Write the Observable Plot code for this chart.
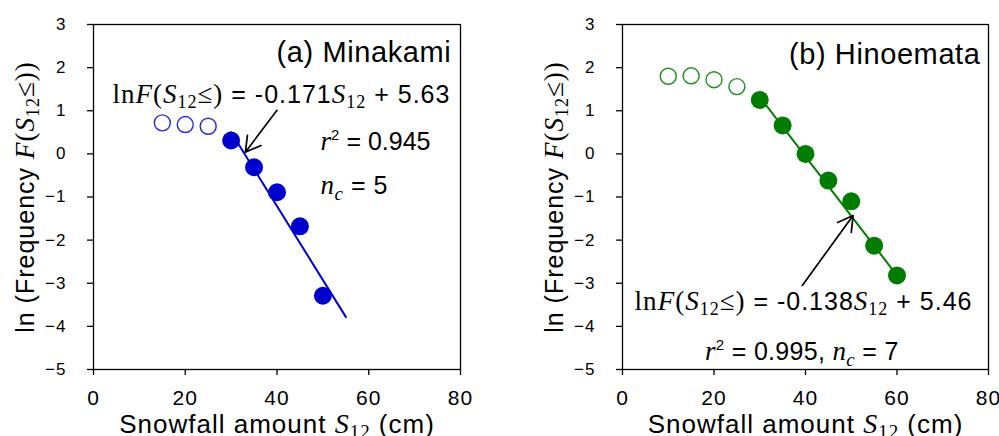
<!DOCTYPE html>
<html><head><meta charset="utf-8">
<script src="https://cdn.jsdelivr.net/npm/d3@7"></script>
<script src="https://cdn.jsdelivr.net/npm/@observablehq/plot@0.6"></script>
<style>
body{margin:0;background:#fff;}
#wrap{display:flex;width:999px;height:436px;overflow:hidden;}
#wrap svg{display:block;flex:none;}
</style></head><body><div id="wrap"></div>
<script>
// ---------- data ----------
const xTicks = [0, 20, 40, 60, 80];
const yTicks = [-5, -4, -3, -2, -1, 0, 1, 2, 3];

const stations = ["(a) Minakami", "(b) Hinoemata"];
const slopes = ["-0.171", "-0.138"];
const intercepts = ["5.63", "5.46"];
const r2Values = ["0.945", "0.995"];
const ncValues = ["5", "7"];

const minakamiOpenX = [15, 20, 25];
const minakamiOpenY = [0.72, 0.68, 0.64];
const minakamiFillX = [30, 35, 40, 45, 50];
const minakamiFillY = [0.31, -0.31, -0.89, -1.68, -3.29];
const minakamiFitX = [30, 55];
const minakamiFitY = [0.50, -3.78];

const hinoemataOpenX = [10, 15, 20, 25];
const hinoemataOpenY = [1.80, 1.81, 1.72, 1.56];
const hinoemataFillX = [30, 35, 40, 45, 50, 55, 60];
const hinoemataFillY = [1.25, 0.66, 0.00, -0.62, -1.10, -2.13, -2.82];
const hinoemataFitX = [30, 60];
const hinoemataFitY = [1.32, -2.82];

// ---------- helpers ----------
const SANS = "'Liberation Sans', Arial, sans-serif";
const SERIF = "'Liberation Serif', 'Times New Roman', serif";
const zip = (xs, ys) => xs.map((x, i) => ({x, y: ys[i]}));

const rich = new Map();
const P = (t, f, s, it = false, sh = 0) => ({t, f, s, it, sh});

const yLabel = "ln (Frequency F(S12≤))";
rich.set(yLabel, {ls: 1, parts: [P("ln (Frequency ", SANS, 25), P("F", SERIF, 27, true), P("(", SERIF, 27), P("S", SERIF, 27, true), P("12", SERIF, 18, false, 5), P("≤))", SERIF, 27)]});
const xLabel = "Snowfall amount S12 (cm)";
rich.set(xLabel, {ls: 1, parts: [P("Snowfall amount ", SANS, 26), P("S", SERIF, 28, true), P("12", SERIF, 19, false, 5), P(" (cm)", SANS, 26)]});

function eqKey(i) { return `lnF(S12≤) = ${slopes[i]}S12 + ${intercepts[i]}`; }
function eqParts(i) {
  return [P("ln", SERIF, 27), P("F", SERIF, 27, true), P("(", SERIF, 27), P("S", SERIF, 27, true), P("12", SERIF, 18, false, 5), P("≤)", SERIF, 27),
          P(` = ${slopes[i]}`, SANS, 25), P("S", SERIF, 27, true), P("12", SERIF, 18, false, 5), P(` + ${intercepts[i]}`, SANS, 25)];
}
const r2Parts = i => [P("r", SERIF, 27, true), P("2", SANS, 15, false, -10), P(` = ${r2Values[i]}`, SANS, 25)];
const ncParts = i => [P("n", SERIF, 27, true), P("c", SERIF, 19, true, 6), P(` = ${ncValues[i]}`, SANS, 25)];

function applyRich(svg) {
  svg.querySelectorAll("text").forEach(el => {
    const spec = rich.get(el.textContent);
    if (!spec) return;
    el.textContent = "";
    el.style.letterSpacing = spec.ls + "px";
    let cur = 0;
    for (const p of spec.parts) {
      const ts = document.createElementNS("http://www.w3.org/2000/svg", "tspan");
      ts.textContent = p.t;
      ts.setAttribute("font-family", p.f);
      ts.setAttribute("font-size", p.s);
      ts.setAttribute("font-style", p.it ? "italic" : "normal");
      const dy = p.sh - cur;
      if (dy) ts.setAttribute("dy", dy);
      cur = p.sh;
      el.appendChild(ts);
    }
  });
  svg.querySelectorAll("g").forEach(g => {
    const lab = g.getAttribute("aria-label") || "";
    if (!lab.includes("tick label")) return;
    const isX = lab.startsWith("x");
    g.querySelectorAll("text").forEach(t => {
      t.style.fontSize = (isX ? 21 : 17) + "px";
      t.style.letterSpacing = "1px";
    });
  });
}

function panel(cfg) {
  const i = cfg.index;
  const eq = eqKey(i);
  rich.set(eq, {ls: 1, parts: eqParts(i)});
  rich.set(stations[i], {ls: 0.6, parts: [P(stations[i], SANS, 29)]});
  const texts = [];
  texts.push({x: cfg.title[0], y: cfg.title[1], label: stations[i], anchor: "end"});
  texts.push({x: cfg.eq[0], y: cfg.eq[1], label: eq, anchor: "end"});
  if (cfg.combined) {
    const key = `r2 = ${r2Values[i]}, nc = ${ncValues[i]}`;
    const parts = r2Parts(i);
    parts[2] = P(` = ${r2Values[i]}, `, SANS, 25);
    rich.set(key, {ls: 0.3, parts: parts.concat(ncParts(i))});
    texts.push({x: cfg.stats[0], y: cfg.stats[1], label: key, anchor: "middle"});
  } else {
    const k1 = `r2 = ${r2Values[i]}`, k2 = `nc = ${ncValues[i]}`;
    rich.set(k1, {ls: 0, parts: r2Parts(i)});
    rich.set(k2, {ls: 0.5, parts: ncParts(i)});
    texts.push({x: cfg.r2[0], y: cfg.r2[1], label: k1, anchor: "start"});
    texts.push({x: cfg.nc[0], y: cfg.nc[1], label: k2, anchor: "start"});
  }
  const textMarks = ["start", "middle", "end"].map(a =>
    Plot.text(texts.filter(d => d.anchor === a), {x: "x", y: "y", text: "label", textAnchor: a, lineAnchor: "bottom", fill: "black", fontSize: 25}));
  const svg = Plot.plot({
    width: cfg.width, height: 436,
    marginLeft: cfg.ml, marginRight: cfg.mr, marginTop: 24, marginBottom: 67,
    style: {fontFamily: SANS, background: "white", color: "black", overflow: "visible"},
    x: {domain: [0, 80]},
    y: {domain: [-5, 3]},
    marks: [
      Plot.axisX({ticks: xTicks, tickSize: 6, tickPadding: 15, fontSize: 21, label: null, strokeWidth: 1.3}),
      Plot.axisY({ticks: yTicks, tickSize: 6, tickPadding: 21, fontSize: 17, label: null, strokeWidth: 1.3}),
      Plot.line(cfg.fit, {x: "x", y: "y", stroke: cfg.color, strokeWidth: 2}),
      Plot.dot(cfg.open, {x: "x", y: "y", r: 8, stroke: cfg.light, strokeWidth: 1.4, fill: "white"}),
      Plot.dot(cfg.fill, {x: "x", y: "y", r: 9, fill: cfg.color}),
      Plot.arrow([cfg.arrow], {x1: "x1", y1: "y1", x2: "x2", y2: "y2", stroke: "black", strokeWidth: 1.7, headLength: 15}),
      ...textMarks,
      Plot.text([yLabel], {text: d => d, frameAnchor: "left", rotate: -90, dx: -60, lineAnchor: "bottom", textAnchor: "middle", fill: "black", fontSize: 25}),
      Plot.text([xLabel], {text: d => d, frameAnchor: "bottom", dy: 63, lineAnchor: "bottom", textAnchor: "middle", fill: "black", fontSize: 26}),
      Plot.frame({stroke: "black", strokeWidth: 1.3})
    ]
  });
  applyRich(svg);
  return svg;
}

const wrap = document.getElementById("wrap");
wrap.appendChild(panel({
  index: 0, width: 500, ml: 93, mr: 40,
  color: "#0000cc", light: "#2a2ad6",
  open: zip(minakamiOpenX, minakamiOpenY),
  fill: zip(minakamiFillX, minakamiFillY),
  fit: zip(minakamiFitX, minakamiFitY),
  arrow: {x1: 40.0, y1: 1.01, x2: 33.1, y2: 0.04},
  title: [78.0, 2.14], eq: [77.8, 1.17], r2: [49.5, 0.08], nc: [49.5, -0.94]
}));
wrap.appendChild(panel({
  index: 1, width: 499, ml: 122, mr: 11, combined: true,
  color: "#007d00", light: "#1e8f1e",
  open: zip(hinoemataOpenX, hinoemataOpenY),
  fill: zip(hinoemataFillX, hinoemataFillY),
  fit: zip(hinoemataFitX, hinoemataFitY),
  arrow: {x1: 39.3, y1: -3.05, x2: 50.4, y2: -1.43},
  title: [78.25, 2.08], eq: [76.5, -3.63], stats: [39.2, -4.77]
}));
</script></body></html>
